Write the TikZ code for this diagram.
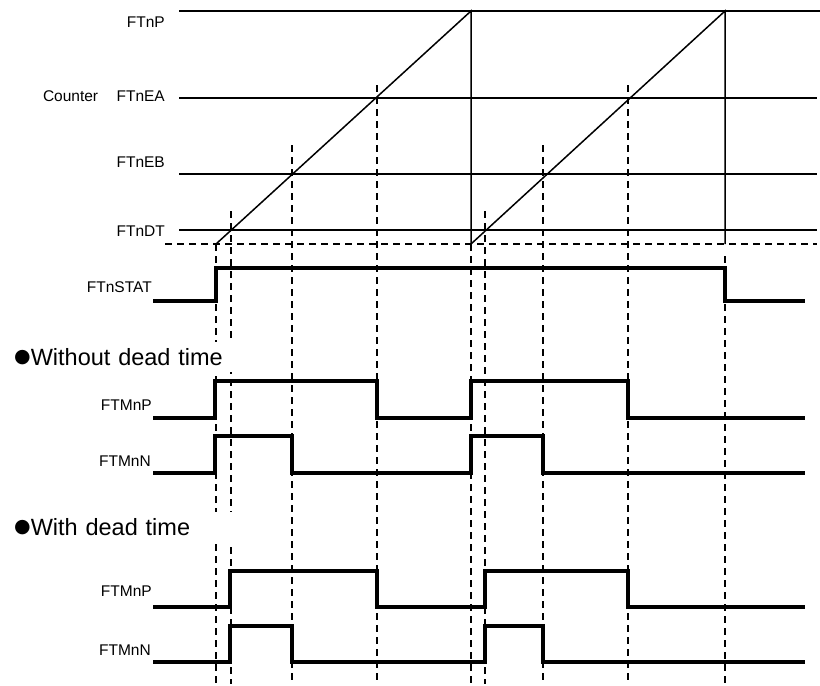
\documentclass[tikz,border=0pt]{standalone}
\usepackage{fontspec}
\setmainfont{Liberation Sans}
\newfontfamily\symfont{DejaVu Sans}
\usetikzlibrary{positioning}
\newcommand{\headdot}{\raisebox{2.5pt}{\symfont\fontsize{19}{20}\selectfont ●}}
\tikzset{
  lbl/.style={inner sep=0pt,font=\fontsize{15.5}{17}\selectfont},
  lbl-head/.style={anchor=west,fill=white,inner sep=6pt,text width=217pt,
    minimum height=27pt,align=left,font=\fontsize{23.5}{25}\selectfont},
  level-line/.style={line width=1.5pt},
  guide-dash/.style={line width=1.5pt,dash pattern=on 7pt off 5pt},
  wave/.style={line width=3.4pt,line join=miter},
}

\begin{document}
\begin{tikzpicture}[x=1pt,y=-1pt]
  \useasboundingbox (0,0) rectangle (820,686);

  % counter levels
  \coordinate (p-l)  at (179,11);  \coordinate (p-r)  at (820,11);
  \coordinate (ea-l) at (179,98);  \coordinate (ea-r) at (817,98);
  \coordinate (eb-l) at (179,174); \coordinate (eb-r) at (817,174);
  \coordinate (dt-l) at (179,230); \coordinate (dt-r) at (817,230);
  \coordinate (zero-l) at (165,244); \coordinate (zero-r) at (817,244);
  \draw[level-line] (p-l) -- (p-r);
  \draw[level-line] (ea-l) -- (ea-r);
  \draw[level-line] (eb-l) -- (eb-r);
  \draw[level-line] (dt-l) -- (dt-r);
  \draw[guide-dash] (zero-l) -- (zero-r);

  % saw-tooth
  \coordinate (r1-s) at (216,244); \coordinate (r1-e) at (471,11);
  \coordinate (r2-s) at (471,244); \coordinate (r2-e) at (725,11);
  \draw[level-line] (r1-s) -- (r1-e) -- (r2-s) -- (r2-e) -- (725,244);

  % compare points
  \foreach \x/\top in {216/244,231/211,292/145,377/85,471/244,485/211,
                       543/145,628/85,725/256}
    \draw[guide-dash] (\x,\top) -- (\x,684);

  % labels
  \node[lbl,anchor=east] (lbl-p)  at (165,22)  {FTnP};
  \node[lbl,anchor=east] (lbl-ea) at (165,96)  {FTnEA};
  \node[lbl,left=18pt of lbl-ea] (lbl-cnt) {Counter};
  \node[lbl,anchor=east] (lbl-eb) at (165,162) {FTnEB};
  \node[lbl,anchor=east] (lbl-dt) at (165,231) {FTnDT};
  \node[lbl,anchor=east] (lbl-st) at (152,287) {FTnSTAT};

  \node[lbl-head] (head-nodt) at (8,357) {\headdot Without dead time};
  \node[lbl,anchor=east] (lbl-p1) at (152,405) {FTMnP};
  \node[lbl,anchor=east] (lbl-n1) at (151,461) {FTMnN};

  \node[lbl-head] (head-dt) at (8,527) {\headdot With dead time};
  \node[lbl,anchor=east] (lbl-p2) at (152,591) {FTMnP};
  \node[lbl,anchor=east] (lbl-n2) at (151,650) {FTMnN};

  % waveforms
  \draw[wave] (153,301) -- (216,301) -- (216,268) -- (725,268)
    -- (725,301) -- (805,301);
  \draw[wave] (153,418) -- (215,418) -- (215,381) -- (377,381)
    -- (377,418) -- (471,418) -- (471,381) -- (628,381) -- (628,418)
    -- (805,418);
  \draw[wave] (153,473) -- (215,473) -- (215,436) -- (292,436)
    -- (292,473) -- (471,473) -- (471,436) -- (543,436) -- (543,473)
    -- (805,473);
  \draw[wave] (153,607) -- (230,607) -- (230,571) -- (377,571)
    -- (377,607) -- (485,607) -- (485,571) -- (628,571) -- (628,607)
    -- (805,607);
  \draw[wave] (153,662) -- (230,662) -- (230,626) -- (292,626)
    -- (292,662) -- (485,662) -- (485,626) -- (543,626) -- (543,662)
    -- (805,662);
\end{tikzpicture}
\end{document}
